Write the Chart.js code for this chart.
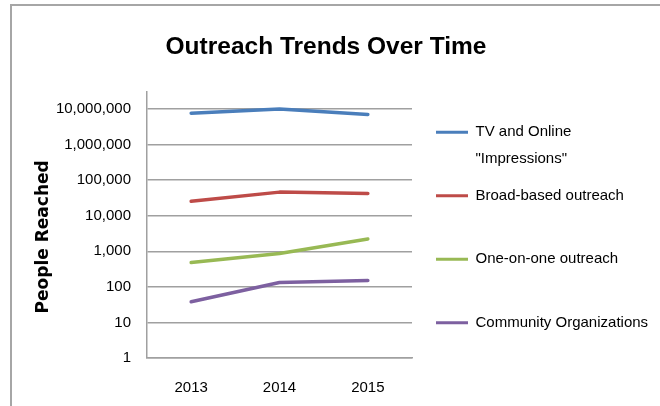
<!DOCTYPE html>
<html><head><meta charset="utf-8">
<script src="https://cdn.jsdelivr.net/npm/chart.js@4.4.1/dist/chart.umd.min.js"></script>
<style>
html,body{margin:0;padding:0;background:#fff;}
#wrap{position:relative;width:660px;height:406px;overflow:hidden;background:#fff;}
#frame{position:absolute;left:10px;top:4px;width:700px;height:500px;border-top:2px solid #a6a6a6;border-left:2px solid #a6a6a6;}
canvas{position:absolute;left:0;top:0;}
</style></head><body>
<div id="wrap"><div id="frame"></div><canvas id="c" width="660" height="406"></canvas></div>
<script>
const years = ['2013', '2014', '2015'];
const seriesNames = ['TV and Online "Impressions"', 'Broad-based outreach', 'One-on-one outreach', 'Community Organizations'];
const legendLines = [['TV and Online', '"Impressions"'], ['Broad-based outreach', ''], ['One-on-one outreach', ''], ['Community Organizations', '', '']];
const tvOnline = [7600000, 10000000, 7000000];
const broadBased = [25500, 46000, 42000];
const oneOnOne = [480, 870, 2200];
const communityOrgs = [38, 133, 150];
const yTicks = [1, 10, 100, 1000, 10000, 100000, 1000000, 10000000];
const yMax = 30000000;
const colors = ['#4a7ebb', '#be4b48', '#98b954', '#7d60a0'];

const seriesData = [tvOnline, broadBased, oneOnOne, communityOrgs];
const sans = "'Liberation Sans', Arial, sans-serif";

new Chart(document.getElementById('c').getContext('2d'), {
  type: 'line',
  data: {
    labels: years,
    datasets: seriesData.map((d, i) => ({
      label: seriesNames[i], data: d,
      borderColor: colors[i], backgroundColor: colors[i],
      borderWidth: 3.5, pointRadius: 0, pointHoverRadius: 0,
      tension: 0, fill: false, borderCapStyle: 'round', borderJoinStyle: 'round'
    }))
  },
  options: {
    responsive: false, animation: false, devicePixelRatio: 1,
    layout: { padding: { left: 0, right: 8, top: 0, bottom: 0.7 } },
    plugins: {
      title: {
        display: true, text: 'Outreach Trends Over Time', color: '#000',
        font: { family: sans, size: 24.5, weight: 'bold', lineHeight: 1.2 },
        padding: { top: 33, bottom: 29.6 }
      },
      legend: {
        display: true, position: 'right', align: 'end', maxWidth: 226.5,
        labels: {
          boxWidth: 32, boxHeight: 3, padding: 10.5, color: '#000',
          font: { family: sans, size: 15, lineHeight: 1.767 },
          generateLabels: chart => Chart.defaults.plugins.legend.labels.generateLabels(chart)
            .map((item, i) => Object.assign(item, { text: legendLines[i], lineWidth: 0 }))
        }
      },
      tooltip: { enabled: false }
    },
    scales: {
      x: {
        type: 'category', offset: true,
        grid: { display: false, drawTicks: false },
        border: { display: true, color: '#a0a0a0', width: 1.5 },
        ticks: { color: '#000', font: { family: sans, size: 15 }, padding: 21, maxRotation: 0, autoSkip: false },
        afterFit: s => { s.height = 47.3; }
      },
      y: {
        type: 'logarithmic', min: 1, max: yMax,
        grid: { color: '#a0a0a0', lineWidth: 1.5, drawTicks: false },
        border: { display: true, color: '#a0a0a0', width: 1.5 },
        ticks: { color: '#000', font: { family: sans, size: 15 }, padding: 16,
          callback: v => Number(v).toLocaleString('en-US') },
        afterBuildTicks: s => { s.ticks = yTicks.map(v => ({ value: v })); },
        title: { display: true, text: 'People Reached    ', color: '#000',
          font: { family: "'DejaVu Sans', sans-serif", size: 17, weight: 'bold', lineHeight: 1.2 },
          padding: { top: 33, bottom: 0 } },
        afterFit: s => { s.width = 147; }
      },
      gap: {
        type: 'linear', position: 'right', display: true,
        grid: { display: false, drawTicks: false }, border: { display: false },
        ticks: { display: false },
        afterFit: s => { s.width = 13.5; }
      }
    }
  }
});
</script>
</body></html>
